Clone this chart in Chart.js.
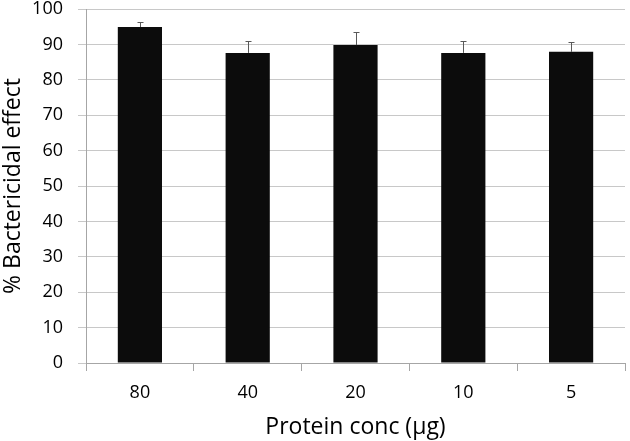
<!DOCTYPE html>
<html>
<head>
<meta charset="utf-8">
<script src="https://cdn.jsdelivr.net/npm/chart.js@4.4.0/dist/chart.umd.min.js"></script>
<style>
  html, body { margin: 0; padding: 0; background: #fff; }
  #wrap { width: 630px; height: 441px; }
</style>
</head>
<body>
<div id="wrap"><canvas id="chart" width="630" height="441"></canvas></div>
<script>
// Bactericidal effect by protein concentration
const categories = ['80', '40', '20', '10', '5'];
const effect = [94.9, 87.6, 89.8, 87.6, 87.9];
const errors = [1.4, 3.4, 3.7, 3.4, 2.8];
const yTicks = [0, 10, 20, 30, 40, 50, 60, 70, 80, 90, 100];

const FONT = 'Open Sans';

// draws the upper error whiskers on top of each bar
const errorBars = {
  id: 'errorBars',
  afterDatasetsDraw(chart) {
    const ctx = chart.ctx;
    const y = chart.scales.y;
    const meta = chart.getDatasetMeta(0);
    ctx.save();
    ctx.strokeStyle = '#595959';
    ctx.lineWidth = 1;
    meta.data.forEach((bar, i) => {
      const top = y.getPixelForValue(effect[i] + errors[i]);
      const x = Math.round(bar.x) + 0.5;
      ctx.beginPath();
      ctx.moveTo(x, bar.y);
      ctx.lineTo(x, Math.round(top) + 0.5);
      ctx.moveTo(x - 3, Math.round(top) + 0.5);
      ctx.lineTo(x + 3, Math.round(top) + 0.5);
      ctx.stroke();
    });
    ctx.restore();
  }
};

new Chart(document.getElementById('chart'), {
  type: 'bar',
  data: {
    labels: categories,
    datasets: [{
      data: effect,
      backgroundColor: '#0c0c0c',
      borderWidth: 0,
      categoryPercentage: 1,
      barPercentage: 0.41
    }]
  },
  options: {
    responsive: false,
    animation: false,
    layout: { padding: { left: 0, right: 5, top: 9, bottom: 0 } },
    plugins: { legend: { display: false }, tooltip: { enabled: false } },
    scales: {
      x: {
        afterFit: axis => { axis.height = 78; axis.paddingLeft = 0; axis.paddingRight = 0; },
        grid: { drawOnChartArea: false, drawTicks: true, tickLength: 8, color: '#a6a6a6', offset: true },
        border: { color: '#a6a6a6' },
        ticks: { color: '#000', font: { family: FONT, size: 18 }, padding: 11 },
        title: { display: true, text: 'Protein conc (µg)', color: '#000', font: { family: FONT, size: 23 }, padding: { top: 6, bottom: 0 } }
      },
      y: {
        min: 0, max: 100,
        afterFit: axis => { axis.width = 86; axis.paddingTop = 0; axis.paddingBottom = 0; },
        afterBuildTicks: axis => { axis.ticks = yTicks.map(v => ({ value: v })); },
        grid: { color: '#c8c8c8', tickLength: 8 },
        border: { color: '#a6a6a6' },
        ticks: { color: '#000', font: { family: FONT, size: 18 }, padding: 15 },
        title: { display: true, text: '% Bactericidal effect', color: '#000', font: { family: FONT, size: 23 }, padding: { top: 0, bottom: 4 } }
      }
    }
  },
  plugins: [errorBars]
});
</script>
</body>
</html>
